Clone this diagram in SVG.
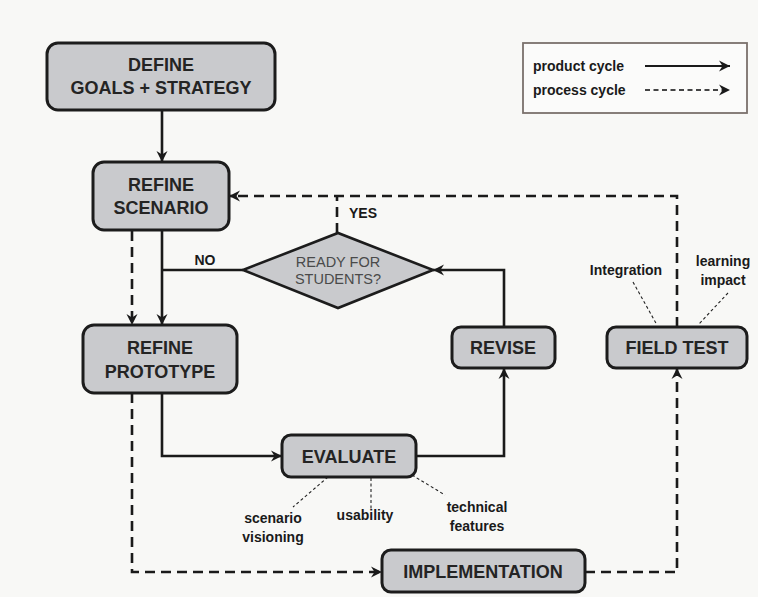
<svg xmlns="http://www.w3.org/2000/svg" width="758" height="597" viewBox="0 0 758 597">
<defs>
<style>
.box{fill:#c9cacd;stroke:#1c1c1c;stroke-width:3}
.bt{font-family:"Liberation Sans",Arial,sans-serif;font-weight:bold;font-size:18px;fill:#242424;text-anchor:middle;dominant-baseline:central}
.lbl{font-family:"Liberation Sans",Arial,sans-serif;font-weight:bold;font-size:14px;fill:#1a1a1a;text-anchor:middle;dominant-baseline:central}
.dt{font-family:"Liberation Sans",Arial,sans-serif;font-size:14.5px;fill:#4a4a4a;text-anchor:middle;dominant-baseline:central}
.solid{fill:none;stroke:#1a1a1a;stroke-width:2.6}
.dash{fill:none;stroke:#1a1a1a;stroke-width:2.6;stroke-dasharray:10 6}
.lead{fill:none;stroke:#222;stroke-width:1.1;stroke-dasharray:3 2.5}
</style>
<marker id="ah" markerUnits="userSpaceOnUse" markerWidth="12" markerHeight="12" refX="11" refY="6" orient="auto">
<path d="M0,0.5 L11,6 L0,11.5 L3.5,6 z" fill="#1a1a1a"/>
</marker>
</defs>
<rect width="758" height="597" fill="#f8f8f6"/>

<g id="legend">
<rect x="523" y="43" width="224" height="70" fill="#fbfbfa" stroke="#7a716c" stroke-width="1.8"/>
<text x="533" y="66" class="lbl" style="text-anchor:start">product cycle</text>
<text x="533" y="90" class="lbl" style="text-anchor:start">process cycle</text>
<path d="M645,66 H730" class="solid" style="stroke-width:2" marker-end="url(#ah)"/>
<path d="M645,90 H730" class="dash" style="stroke-width:2;stroke-dasharray:5 3.5;stroke:#444" marker-end="url(#ah)"/>
</g>

<g id="connectors">
<path d="M162,110 V162" class="solid" marker-end="url(#ah)"/>
<path d="M162,230 V325" class="solid" marker-end="url(#ah)"/>
<path d="M243,270 H162" class="solid"/>
<path d="M132,231 V325" class="dash" marker-end="url(#ah)"/>
<path d="M162,393 V456 H282" class="solid" marker-end="url(#ah)"/>
<path d="M416,456 H504 V368" class="solid" marker-end="url(#ah)"/>
<path d="M504,327 V270 H433" class="solid" marker-end="url(#ah)"/>
<path d="M337,233 V196" class="dash"/>
<path d="M677,327 V196 H229" class="dash" marker-end="url(#ah)"/>
<path d="M132,393 V572 H382" class="dash" marker-end="url(#ah)"/>
<path d="M585,572 H677 V368" class="dash" marker-end="url(#ah)"/>
<path d="M328,477 L293,507" class="lead"/>
<path d="M371,478 V510" class="lead"/>
<path d="M412,475 L445,495" class="lead"/>
<path d="M633,282 L657,325" class="lead"/>
<path d="M728,293 L698,325" class="lead"/>
</g>

<g id="define">
<rect x="47" y="43" width="228" height="67" rx="11" class="box"/>
<text x="161" y="65" class="bt">DEFINE</text>
<text x="161" y="88" class="bt">GOALS + STRATEGY</text>
</g>

<g id="refine-scenario">
<rect x="93" y="162" width="136" height="68" rx="11" class="box"/>
<text x="161" y="185" class="bt">REFINE</text>
<text x="161" y="208" class="bt">SCENARIO</text>
</g>

<g id="ready">
<path d="M243,270 L338,233 L433,270 L338,308 z" fill="#c9cacd" stroke="#1c1c1c" stroke-width="2.6" stroke-linejoin="miter"/>
<text x="338" y="262" class="dt">READY FOR</text>
<text x="338" y="279" class="dt">STUDENTS?</text>
<text x="205" y="260" class="lbl">NO</text>
<text x="363" y="213" class="lbl">YES</text>
</g>

<g id="refine-prototype">
<rect x="83" y="325" width="154" height="68" rx="11" class="box"/>
<text x="160" y="348" class="bt">REFINE</text>
<text x="160" y="372" class="bt">PROTOTYPE</text>
</g>

<g id="evaluate">
<rect x="282" y="435" width="134" height="42" rx="9" class="box"/>
<text x="349" y="457" class="bt">EVALUATE</text>
<text x="273" y="518" class="lbl">scenario</text>
<text x="273" y="537" class="lbl">visioning</text>
<text x="365" y="515" class="lbl">usability</text>
<text x="477" y="507" class="lbl">technical</text>
<text x="477" y="526" class="lbl">features</text>
</g>

<g id="revise">
<rect x="452" y="327" width="103" height="41" rx="9" class="box"/>
<text x="503" y="348" class="bt">REVISE</text>
</g>

<g id="field-test">
<rect x="607" y="327" width="140" height="41" rx="9" class="box"/>
<text x="677" y="348" class="bt">FIELD TEST</text>
<text x="626" y="270" class="lbl">Integration</text>
<text x="723" y="261" class="lbl">learning</text>
<text x="723" y="280" class="lbl">impact</text>
</g>

<g id="implementation">
<rect x="382" y="550" width="203" height="42" rx="9" class="box"/>
<text x="483" y="572" class="bt">IMPLEMENTATION</text>
</g>
</svg>
